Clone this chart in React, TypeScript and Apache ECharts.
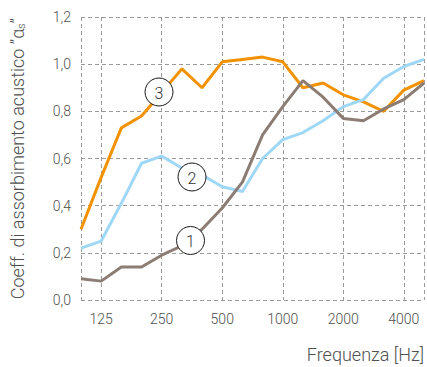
import React, { useEffect, useRef } from "react";
import * as echarts from "echarts";

const frequencies = ["100", "125", "160", "200", "250", "315", "400", "500", "630", "800", "1000", "1250", "1600", "2000", "2500", "3150", "4000", "5000"];
const shownLabels = ["125", "250", "500", "1000", "2000", "4000"];
const series1 = [0.09, 0.08, 0.14, 0.14, 0.19, 0.23, 0.30, 0.39, 0.50, 0.70, 0.82, 0.93, 0.86, 0.77, 0.76, 0.81, 0.85, 0.92];
const series2 = [0.22, 0.25, 0.41, 0.58, 0.61, 0.56, 0.53, 0.48, 0.46, 0.60, 0.68, 0.71, 0.76, 0.82, 0.85, 0.94, 0.99, 1.02];
const series3 = [0.30, 0.52, 0.73, 0.78, 0.88, 0.98, 0.90, 1.01, 1.02, 1.03, 1.01, 0.90, 0.92, 0.87, 0.84, 0.80, 0.89, 0.93];
const labels = [
  { text: "1", x: 190.5, y: 240.5 },
  { text: "2", x: 192, y: 177 },
  { text: "3", x: 159, y: 92 },
];

const FONT = "Roboto";
const GRID_COLOR = "#9a9a9a";

export default function App() {
  const ref = useRef<HTMLDivElement>(null);
  useEffect(() => {
    if (!ref.current) return;
    const chart = echarts.init(ref.current, undefined, { renderer: "svg" });
    const gridInterval = (index: number, value: string) =>
      index === 0 || index === frequencies.length - 1 || shownLabels.includes(value);
    chart.setOption({
      animation: false,
      backgroundColor: "#ffffff",
      grid: { left: 80, right: 1, top: 17, bottom: 67 },
      xAxis: {
        type: "category",
        data: frequencies,
        boundaryGap: false,
        axisLine: { show: false },
        axisTick: { show: false },
        axisLabel: {
          interval: (index: number, value: string) => shownLabels.includes(value),
          margin: 12,
          color: "#505050",
          fontSize: 14,
          fontFamily: FONT,
          fontWeight: 300,
        },
        splitLine: {
          show: true,
          interval: gridInterval,
          lineStyle: { color: GRID_COLOR, type: [4, 3], width: 1 },
        },
        name: "Frequenza [Hz]",
        nameLocation: "end",
        nameGap: 0,
        nameTextStyle: {
          align: "right",
          verticalAlign: "top",
          padding: [45, 0, 0, 0],
          color: "#505050",
          fontSize: 18,
          fontFamily: FONT,
          fontWeight: 300,
        },
      },
      yAxis: {
        type: "value",
        min: 0,
        max: 1.2,
        interval: 0.2,
        axisLine: { show: false },
        axisTick: { show: false },
        axisLabel: {
          margin: 10,
          color: "#505050",
          fontSize: 14,
          fontFamily: FONT,
          fontWeight: 300,
          formatter: (v: number) => v.toFixed(1).replace(".", ","),
        },
        splitLine: {
          show: true,
          lineStyle: { color: GRID_COLOR, type: [4, 3], width: 1 },
        },
        name: "Coeff. di assorbimento acustico \u201d\u03b1{s|s}\u201d",
        nameLocation: "middle",
        nameGap: 54,
        nameTextStyle: {
          color: "#505050",
          fontSize: 18,
          fontFamily: FONT,
          fontWeight: 300,
          rich: {
            s: { fontSize: 11, verticalAlign: "bottom", padding: [9, 0, 0, 0], color: "#505050", fontFamily: FONT, fontWeight: 300 },
          },
        },
      },
      series: [
        {
          type: "line",
          data: series3,
          symbol: "none",
          lineStyle: { color: "#f39200", width: 3 },
          itemStyle: { color: "#f39200" },
          z: 2,
        },
        {
          type: "line",
          data: series2,
          symbol: "none",
          lineStyle: { color: "#9fd8f6", width: 3 },
          itemStyle: { color: "#9fd8f6" },
          z: 3,
        },
        {
          type: "line",
          data: series1,
          symbol: "none",
          lineStyle: { color: "#8b7d73", width: 3 },
          itemStyle: { color: "#8b7d73" },
          z: 4,
        },
      ],
      graphic: labels.map((l) => ({
        type: "group",
        z: 100,
        children: [
          {
            type: "circle",
            shape: { cx: l.x, cy: l.y, r: 14 },
            style: { fill: "#ffffff", stroke: "#1a1a1a", lineWidth: 1 },
            z: 100,
          },
          {
            type: "text",
            x: l.x,
            y: l.y + 1,
            style: {
              text: l.text,
              align: "center",
              verticalAlign: "middle",
              fontSize: 16,
              fontFamily: FONT,
              fontWeight: 300,
              fill: "#333333",
            },
            z: 101,
          },
        ],
      })),
    });
    return () => chart.dispose();
  }, []);
  return <div ref={ref} style={{ width: 427, height: 367, position: "absolute", left: 0, top: 0 }} />;
}
